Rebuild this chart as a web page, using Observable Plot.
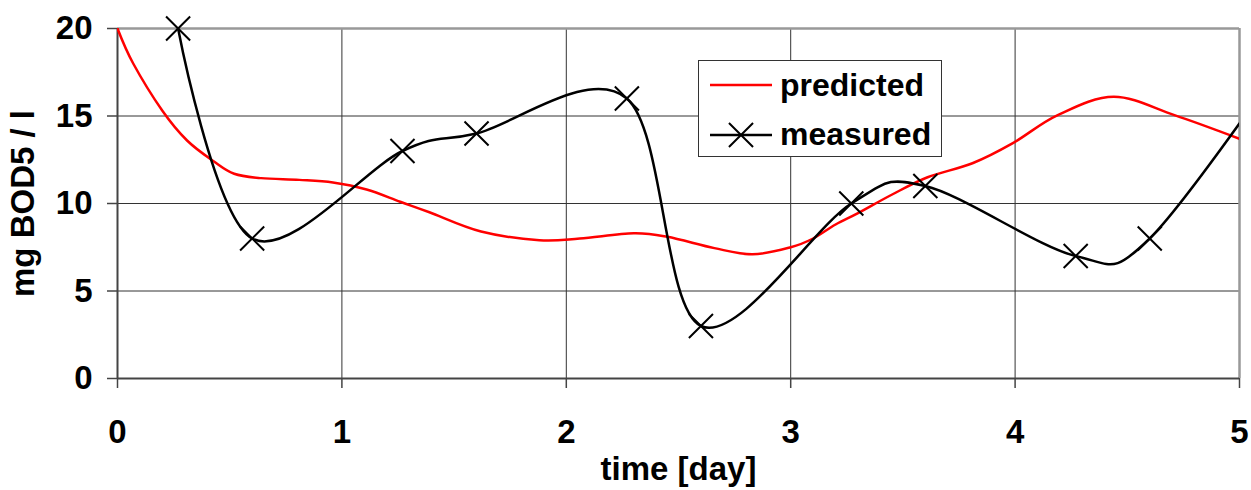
<!DOCTYPE html>
<html>
<head>
<meta charset="utf-8">
<script src="https://cdn.jsdelivr.net/npm/d3@7"></script>
<script src="https://cdn.jsdelivr.net/npm/@observablehq/plot@0.6"></script>
<style>
html, body { margin: 0; padding: 0; background: #fff; }
#wrap { position: relative; width: 1251px; height: 490px; }
#legend { position: absolute; left: 698px; top: 60px; width: 242px; height: 95px;
  border: 1.5px solid #333; background: #fff;
  font: bold 32px "Liberation Sans", Arial, sans-serif; color: #000; }
#legend span { position: absolute; left: 81px; line-height: 32px; white-space: nowrap; }
#legend svg { position: absolute; left: 0; top: 0; }
</style>
</head>
<body>
<div id="wrap"><div id="chart"></div><div id="legend"></div></div>
<script>
// ---- data ----
const predX = [0, 0.07, 0.2, 0.31, 0.43, 0.52, 0.64, 0.81, 0.96, 1.11, 1.26, 1.39, 1.62, 1.88, 2.06, 2.3, 2.45, 2.66, 2.83, 3.0, 3.1, 3.2, 3.3, 3.45, 3.61, 3.81, 3.99, 4.19, 4.44, 4.71, 5.0];
const predY = [20, 18.0, 15.3, 13.6, 12.4, 11.7, 11.45, 11.35, 11.2, 10.8, 10.1, 9.5, 8.4, 7.9, 8.0, 8.3, 8.1, 7.45, 7.1, 7.5, 8.0, 8.8, 9.45, 10.5, 11.5, 12.3, 13.45, 15.05, 16.1, 15.05, 13.7];
const measX = [0.27, 0.6, 1.27, 1.6, 2.27, 2.6, 3.27, 3.6, 4.27, 4.6, 5.27];
const measY = [20, 8, 13, 14, 16, 3, 10, 11, 7, 8, 19.5];
const xTicks = [0, 1, 2, 3, 4, 5];
const yTicks = [0, 5, 10, 15, 20];
const xGrid = [1, 2, 3, 4];
const yGrid = [5, 10, 15];
const xTitle = "time [day]";
const yTitle = "mg BOD5 / l";
const seriesNames = ["predicted", "measured"];

const predicted = predX.map((x, i) => ({x, y: predY[i]}));
const measured = measX.map((x, i) => ({x, y: measY[i]}));

const font = '"Liberation Sans", Arial, sans-serif';
const fs = 33;

const chart = Plot.plot({
  width: 1251,
  height: 490,
  marginLeft: 117,
  marginRight: 12,
  marginTop: 28,
  marginBottom: 112,
  x: {domain: [0, 5]},
  y: {domain: [0, 20]},
  style: {fontFamily: font, fontWeight: "bold", fontSize: fs + "px", color: "#000", background: "#fff", overflow: "visible"},
  marks: [
    Plot.ruleX(xGrid, {stroke: "#333", strokeWidth: 1}),
    Plot.ruleY(yGrid, {stroke: "#333", strokeWidth: 1}),
    Plot.ruleY([20], {stroke: "#999", strokeWidth: 2.5}),
    Plot.ruleX([5], {stroke: "#999", strokeWidth: 2.5}),
    Plot.ruleX([0], {stroke: "#444", strokeWidth: 2}),
    Plot.ruleY([0], {stroke: "#444", strokeWidth: 2}),
    Plot.axisX({ticks: xTicks, tickFormat: d3.format("d"), tickSize: 10, tickPadding: 31, stroke: "#444", strokeWidth: 1.5, fontSize: fs, fontWeight: "bold", label: null}),
    Plot.axisY({ticks: yTicks, tickFormat: d3.format("d"), tickSize: 10, tickPadding: 15, stroke: "#444", strokeWidth: 1.5, fontSize: fs, fontWeight: "bold", label: null}),
    Plot.line(predicted, {x: "x", y: "y", stroke: "#ff0000", strokeWidth: 2.5, curve: "cardinal", clip: true}),
    Plot.line(measured, {x: "x", y: "y", stroke: "#000", strokeWidth: 2.5, curve: "cardinal", clip: true}),
    Plot.dot(measured.filter(d => d.x <= 5), {x: "x", y: "y", symbol: "times", r: 11, stroke: "#000", strokeWidth: 2}),
    Plot.text([xTitle], {text: d => d, frameAnchor: "bottom", dy: 101, fontSize: fs, fontWeight: "bold"}),
    Plot.text([yTitle], {text: d => d, frameAnchor: "left", textAnchor: "middle", dx: -94, rotate: -90, fontSize: fs, fontWeight: "bold"})
  ]
});
document.getElementById("chart").appendChild(chart);

// ---- legend ----
const legend = d3.select("#legend");
const sw = legend.append("svg").attr("width", 242).attr("height", 95);
sw.append("line").attr("x1", 11).attr("x2", 73).attr("y1", 24).attr("y2", 24)
  .attr("stroke", "#ff0000").attr("stroke-width", 2.5);
sw.append("line").attr("x1", 11).attr("x2", 73).attr("y1", 74).attr("y2", 74)
  .attr("stroke", "#000").attr("stroke-width", 2.5);
sw.append("path").attr("d", d3.symbol(d3.symbolTimes, Math.PI * 121)())
  .attr("transform", "translate(42,74)").attr("fill", "none")
  .attr("stroke", "#000").attr("stroke-width", 2);
legend.append("span").style("top", "8px").text(seriesNames[0]);
legend.append("span").style("top", "57px").text(seriesNames[1]);
</script>
</body>
</html>
